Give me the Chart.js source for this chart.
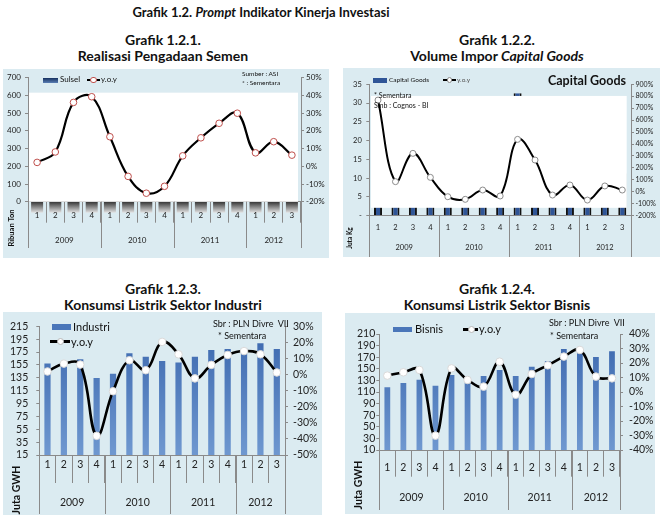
<!DOCTYPE html>
<html><head><meta charset="utf-8">
<script src="https://cdn.jsdelivr.net/npm/chart.js@4.4.1/dist/chart.umd.min.js"></script>
<style>
html,body{margin:0;padding:0;background:#fff;}
body{width:661px;height:522px;position:relative;overflow:hidden;font-family:Lato,'Open Sans',sans-serif;color:#111;}
.tt{position:absolute;width:340px;text-align:center;font-weight:bold;font-size:14px;line-height:15.5px;white-space:nowrap;color:#111;}
.mt{font-size:13px;}
.box{position:absolute;background:#dbebf1;}
.box canvas{position:absolute;left:0;top:0;}
.tx{position:absolute;white-space:nowrap;color:#111;}
.sw{position:absolute;}
</style></head><body>

<div class="tt mt" style="left:91px;top:5px;">Grafik 1.2. <i>Prompt</i> Indikator Kinerja Investasi</div>
<div class="tt" style="left:-7px;top:32px;">Grafik 1.2.1.<br>Realisasi Pengadaan Semen</div>
<div class="tt" style="left:327px;top:32px;">Grafik 1.2.2.<br>Volume Impor <i>Capital Goods</i></div>
<div class="tt" style="left:-7px;top:281px;">Grafik 1.2.3.<br>Konsumsi Listrik Sektor Industri</div>
<div class="tt" style="left:327px;top:281px;">Grafik 1.2.4.<br>Konsumsi Listrik Sektor Bisnis</div>

<div class="box" style="left:3px;top:69px;width:326px;height:189px;"><canvas id="c1" width="326" height="189"></canvas></div>
<div class="box" style="left:343px;top:68px;width:317px;height:189px;"><canvas id="c2" width="317" height="189"></canvas></div>
<div class="box" style="left:3px;top:312px;width:319px;height:203px;"><canvas id="c3" width="319" height="203"></canvas></div>
<div class="box" style="left:345px;top:313px;width:310px;height:201px;"><canvas id="c4" width="310" height="201"></canvas></div>

<div id="overlay"></div>

<script>
// ---------- data ----------
const quarterLabels = ['1','2','3','4','1','2','3','4','1','2','3','4','1','2','3'];
const yearLabels = ['2009','2010','2011','2012'];
const quartersPerYear = [4,4,4,3];

// Grafik 1.2.1 – y.o.y semen (%)
const semenYoy = [2.2,8.1,36.1,39.3,16.7,-5.7,-15.2,-11.3,5.9,16.1,24.3,30.0,7.6,13.9,6.3];

// Grafik 1.2.2 – Capital Goods (juta kg) and y.o.y (%)
const capGoods = [10.4,8.5,9.0,8.0,6.5,4.4,7.0,5.2,32.6,14.8,9.0,10.0,8.0,9.5,11.3];
const capGoodsYoy = [768,85,322,121,-41,-63,15,-35,439,266,-27,57,-69,49,15];

// Grafik 1.2.3 – Industri (juta GWH) and y.o.y (%)
const industri = [157,157,163.7,134.5,141.2,173,167.8,161.2,158.6,167.8,178.1,179.6,180.6,188.8,179.6];
const industriYoy = [1.9,6.8,6.2,-38.1,-10.4,8.9,2.7,20.3,12.6,-2.4,6.0,12.2,14.6,12.6,1.3];

// Grafik 1.2.4 – Bisnis (juta GWH) and y.o.y (%)
const bisnis = [118.1,125.5,131.3,120.9,139.3,128,137.6,147.9,137.6,153.7,163.4,184.1,179.5,170.3,180.1];
const bisnisYoy = [11.3,13.6,15.2,-30.1,16.3,8.3,3.7,20.9,-1.9,12.4,18.4,24.4,29.0,10.6,9.4];

// ---------- helpers ----------
const FONT = "Lato, 'Open Sans', sans-serif";
Chart.defaults.font.family = FONT;
Chart.defaults.color = '#222';
Chart.defaults.animation = false;

const ov = document.getElementById('overlay');
function text(html, x, y, size, extra){
  const d = document.createElement('div');
  d.className = 'tx';
  d.style.left = x + 'px';
  d.style.top = (y - size*0.62) + 'px';
  d.style.fontSize = size + 'px';
  d.style.lineHeight = (size*1.2) + 'px';
  if (extra) Object.assign(d.style, extra);
  d.innerHTML = html;
  ov.appendChild(d);
}
function rect(x, y, w, h, bg, extra){
  const d = document.createElement('div');
  d.className = 'sw';
  Object.assign(d.style, {left:x+'px', top:y+'px', width:w+'px', height:h+'px', background:bg}, extra||{});
  ov.appendChild(d);
}
function lineSwatch(x1, x2, y, cx, r, lw, stroke){
  rect(x1, y - lw/2, x2 - x1, lw, '#000');
  rect(cx - r, y - r, 2*r, 2*r, '#fff', {borderRadius:'50%', border:'1px solid '+stroke, boxSizing:'border-box'});
}

const deco = {
  id: 'deco',
  beforeDraw(chart, args, o){
    if (!o.blocks) return;
    const {ctx, chartArea:a, scales:{x}} = chart;
    ctx.save();
    const g = ctx.createLinearGradient(0, a.bottom, 0, a.bottom + o.blocks.h);
    g.addColorStop(0, '#333'); g.addColorStop(1, '#e2e2e2');
    ctx.fillStyle = g;
    quarterLabels.forEach((q, i) => {
      const px = x.getPixelForValue(i);
      ctx.fillRect(px - o.blocks.w/2, a.bottom, o.blocks.w, o.blocks.h);
    });
    ctx.restore();
  },
  beforeDatasetDraw(chart, args, o){
    if (!o.white) return;
    if (chart.data.datasets[args.index].type !== 'line') return;
    const {ctx, chartArea:a, scales} = chart;
    const y = scales[o.white.axis];
    const top = y.getPixelForValue(o.white.top), bot = y.getPixelForValue(o.white.bottom);
    ctx.save();
    ctx.fillStyle = '#fff';
    ctx.fillRect(a.left + o.white.l, top, (a.right - o.white.r) - (a.left + o.white.l), bot - top);
    ctx.restore();
  },
  afterDraw(chart, args, o){
    const {ctx, chartArea:a, scales:{x}} = chart;
    ctx.save();
    let idx = 0;
    const bounds = [x.getPixelForValue(-0.5)];
    quartersPerYear.forEach(n => { idx += n; bounds.push(x.getPixelForValue(idx - 0.5)); });
    ctx.strokeStyle = o.sepColor; ctx.lineWidth = 1;
    ctx.beginPath();
    bounds.forEach(b => { const xx = Math.round(b) + 0.5; ctx.moveTo(xx, a.bottom); ctx.lineTo(xx, a.bottom + o.yearSepLen); });
    ctx.stroke();
    ctx.fillStyle = '#222';
    ctx.font = o.yearFont + 'px ' + FONT;
    ctx.textAlign = 'center'; ctx.textBaseline = 'middle';
    yearLabels.forEach((yl, i) => ctx.fillText(yl, (bounds[i] + bounds[i+1]) / 2, a.bottom + o.yearY));
    ctx.translate(o.title.x, o.title.y);
    ctx.rotate(-Math.PI/2);
    ctx.font = 'bold ' + o.title.size + 'px ' + FONT;
    ctx.fillStyle = '#111';
    ctx.fillText(o.title.text, 0, 0);
    ctx.restore();
  }
};

function xAxis(c){
  return {
    type:'category', offset:true,
    grid:{display:true, offset:true, drawOnChartArea:false, drawTicks:true, tickLength:c.tl, color:c.tc, lineWidth:1},
    border:{display:true, color:'#8a8a8a'},
    ticks:{font:{size:c.fs}, color:'#222', padding:c.pad, maxRotation:0, autoSkip:false},
    afterFit(s){ s.height = c.h; }
  };
}
function yAxis(c){
  return {
    type:'linear', position:c.pos, min:c.min, max:c.max,
    grid:{drawOnChartArea:false, drawTicks:true, tickLength:3, color:'#8a8a8a'},
    border:{display:true, color:'#8a8a8a'},
    ticks:{stepSize:c.step, autoSkip:false, font:{size:c.fs}, color:'#222', padding:c.pad, callback:c.cb},
    afterFit(s){ s.width = c.w; }
  };
}
const pct = v => v + '%';
function barGrad(ctx){
  const ch = ctx.chart, a = ch.chartArea;
  if (!a) return '#4a76b9';
  const g = ch.ctx.createLinearGradient(0, a.top, 0, a.bottom);
  g.addColorStop(0, '#3a66ad'); g.addColorStop(1, '#6f98d0');
  return g;
}

// ---------- Grafik 1.2.1 ----------
new Chart(document.getElementById('c1'), {
  type:'line',
  data:{labels:quarterLabels, datasets:[
    {type:'line', label:'y.o.y', data:semenYoy, yAxisID:'y1', borderColor:'#000', borderWidth:2.2, tension:0.4,
     pointRadius:3.3, pointBackgroundColor:'#fff', pointBorderColor:'#c0504d', pointBorderWidth:1}
  ]},
  options:{
    responsive:false, layout:{padding:{top:6.7, left:0, right:0, bottom:0}},
    plugins:{legend:{display:false}, tooltip:{enabled:false},
      deco:{blocks:{w:12, h:11}, white:{axis:'y', top:616, bottom:0, l:1, r:3}, sepColor:'#8a8a8a', yearSepLen:46.3, yearY:38.3, yearFont:8,
            title:{text:'Ribuan Ton', x:9, y:159, size:7.5}}},
    scales:{
      x: xAxis({tl:21, tc:'#8a8a8a', fs:8, pad:-11.8, h:56.3}),
      y: yAxis({pos:'left', min:0, max:700, step:100, fs:8, pad:4, w:25}),
      y1: yAxis({pos:'right', min:-20, max:50, step:10, fs:8, pad:2, w:28, cb:pct})
    }
  },
  plugins:[deco]
});

// ---------- Grafik 1.2.2 ----------
new Chart(document.getElementById('c2'), {
  type:'bar',
  data:{labels:quarterLabels, datasets:[
    {type:'line', label:'y.o.y', data:capGoodsYoy, yAxisID:'y1', borderColor:'#000', borderWidth:2, tension:0.4,
     pointRadius:3, pointBackgroundColor:'#fff', pointBorderColor:'#8c8c8c', pointBorderWidth:1, order:0},
    {type:'bar', label:'Capital Goods', data:capGoods, yAxisID:'y', backgroundColor:'#2f5597', borderColor:'#111',
     borderWidth:{left:2, right:2, top:0, bottom:0}, borderSkipped:false, categoryPercentage:1, barPercentage:0.46, order:1}
  ]},
  options:{
    responsive:false, layout:{padding:{top:16.3, left:0, right:0, bottom:0}},
    plugins:{legend:{display:false}, tooltip:{enabled:false},
      deco:{white:{axis:'y', top:31.9, bottom:2.1, l:1.7, r:4.3}, sepColor:'#8a8a8a', yearSepLen:41.3, yearY:32, yearFont:7.5,
            title:{text:'Juta Kg', x:7, y:170, size:6.5}}},
    scales:{
      x: xAxis({tl:0, tc:'rgba(0,0,0,0)', fs:7.5, pad:7.5, h:41.3}),
      y: yAxis({pos:'left', min:0, max:35, step:5, fs:7.5, pad:4.5, w:26.3, cb:v => v === 0 ? '-' : v}),
      y1: yAxis({pos:'right', min:-200, max:900, step:100, fs:7, pad:1.5, w:29, cb:pct})
    }
  },
  plugins:[deco]
});

// ---------- Grafik 1.2.3 ----------
new Chart(document.getElementById('c3'), {
  type:'bar',
  data:{labels:quarterLabels, datasets:[
    {type:'line', label:'y.o.y', data:industriYoy, yAxisID:'y1', borderColor:'#000', borderWidth:2.6, tension:0.4,
     pointRadius:3.8, pointBackgroundColor:'#fff', pointBorderColor:'#d8d8d8', pointBorderWidth:1, order:0},
    {type:'bar', label:'Industri', data:industri, yAxisID:'y', backgroundColor:barGrad,
     categoryPercentage:1, barPercentage:0.38, order:1}
  ]},
  options:{
    responsive:false, layout:{padding:{top:13, left:0, right:0, bottom:0}},
    plugins:{legend:{display:false}, tooltip:{enabled:false},
      deco:{sepColor:'#8a8a8a', yearSepLen:59, yearY:47.7, yearFont:10.5,
            title:{text:'Juta GWH', x:13.7, y:178, size:10.5}}},
    scales:{
      x: xAxis({tl:28, tc:'#8a8a8a', fs:10.5, pad:-25, h:60}),
      y: yAxis({pos:'left', min:15, max:215, step:20, fs:10.5, pad:8, w:36.3}),
      y1: yAxis({pos:'right', min:-50, max:30, step:10, fs:10.5, pad:5, w:37, cb:pct})
    }
  },
  plugins:[deco]
});

// ---------- Grafik 1.2.4 ----------
new Chart(document.getElementById('c4'), {
  type:'bar',
  data:{labels:quarterLabels, datasets:[
    {type:'line', label:'y.o.y', data:bisnisYoy, yAxisID:'y1', borderColor:'#000', borderWidth:2.6, tension:0.4,
     pointRadius:3.8, pointBackgroundColor:'#fff', pointBorderColor:'#d8d8d8', pointBorderWidth:1, order:0},
    {type:'bar', label:'Bisnis', data:bisnis, yAxisID:'y', backgroundColor:barGrad,
     categoryPercentage:1, barPercentage:0.36, order:1}
  ]},
  options:{
    responsive:false, layout:{padding:{top:21, left:0, right:0, bottom:0}},
    plugins:{legend:{display:false}, tooltip:{enabled:false},
      deco:{sepColor:'#8a8a8a', yearSepLen:60, yearY:47.3, yearFont:10.5,
            title:{text:'Juta GWH', x:14, y:172, size:10.5}}},
    scales:{
      x: xAxis({tl:26.7, tc:'#8a8a8a', fs:10.5, pad:-15.3, h:64}),
      y: yAxis({pos:'left', min:10, max:210, step:20, fs:10.5, pad:1, w:34.3}),
      y1: yAxis({pos:'right', min:-40, max:40, step:10, fs:10.5, pad:6, w:35, cb:pct})
    }
  },
  plugins:[deco]
});

// ---------- legends & notes ----------
// 1.2.1
rect(43, 78, 15, 4.5, 'linear-gradient(#16305f,#5a7fb5)');
text('Sulsel', 60, 80, 8);
lineSwatch(87, 100, 80, 93.5, 3.2, 2, '#c0504d');
text('y.o.y', 101, 80, 8);
text('Sumber : ASI', 242, 74, 6.5);
text('* : Sementara', 242, 83, 6.5);
// 1.2.2
rect(373, 78, 14, 4.5, '#2f5597');
text('Capital Goods', 389, 80, 6.5);
lineSwatch(443, 456, 80, 449.5, 2.8, 2, '#8c8c8c');
text('y.o.y', 457, 80, 6.5, {color:'#555'});
text('Capital Goods', 548, 81, 12.5, {fontWeight:'bold'});
text('* Sementara', 374, 95, 7);
text('Smb : Cognos - BI', 374, 105.7, 7);
// 1.2.3
rect(51.7, 324.3, 19, 6, '#4a76b9');
text('Industri', 73, 327.3, 11);
lineSwatch(50, 70, 341.7, 60, 3.5, 2.6, '#b8b8b8');
text('y.o.y', 71, 341.7, 11);
text('Sbr : PLN Divre&nbsp; VII', 213, 325, 9);
text('* Sementara', 218, 336.5, 9);
// 1.2.4
rect(392.7, 327, 19, 5, '#4a76b9');
text('Bisnis', 415, 329.3, 11);
lineSwatch(462.7, 478, 329.3, 471.7, 3.5, 2.6, '#b8b8b8');
text('y.o.y', 479, 329.3, 11);
text('Sbr : PLN Divre&nbsp; VII', 549, 323.3, 9);
text('* Sementara', 550, 336.7, 9);
</script>
</body></html>
